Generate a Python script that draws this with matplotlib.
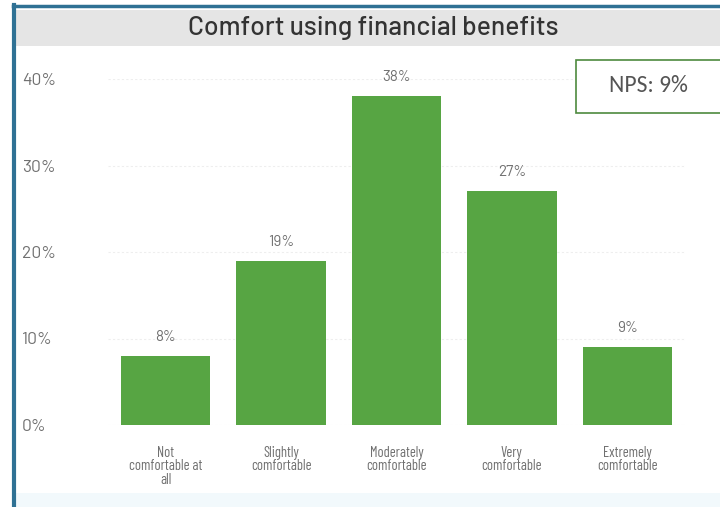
import matplotlib
matplotlib.use("Agg")
import matplotlib.pyplot as plt
from matplotlib.patches import Rectangle

categories = ["Not\ncomfortable at\nall", "Slightly\ncomfortable", "Moderately\ncomfortable",
              "Very\ncomfortable", "Extremely\ncomfortable"]
values = [8, 19, 38, 27, 9]
yticks = [0, 10, 20, 30, 40]
ytick_labels = ["0%", "10%", "20%", "30%", "40%"]
title = "Comfort using financial benefits"
nps_label = "NPS: 9%"

din = ["Barlow", "DejaVu Sans"]
din_cond = ["Barlow Condensed", "DejaVu Sans"]
calibri = ["Carlito", "DejaVu Sans"]
bar_color = "#57a543"
text_gray = "#707070"

W, H = 720, 507
fig = plt.figure(figsize=(W / 100, H / 100), dpi=100)
fig.patch.set_facecolor("white")


def fx(px):
    return px / W


def fy(py):
    return 1 - py / H


# panel frame: blue edge on the left and top, grey title band
fig.add_artist(Rectangle((fx(16), fy(46)), fx(W - 16), fy(10) - fy(46), transform=fig.transFigure,
                         facecolor="#e5e5e5", edgecolor="none", zorder=1))
fig.add_artist(Rectangle((fx(16), fy(H)), fx(W - 16), fy(493) - fy(H), transform=fig.transFigure,
                         facecolor="#f2f9fc", edgecolor="none", zorder=1))
fig.add_artist(plt.Line2D([fx(14), fx(14)], [fy(5), fy(H)], transform=fig.transFigure,
                          color="#2f7194", lw=3, zorder=2))
fig.add_artist(plt.Line2D([fx(13), fx(W)], [fy(6), fy(6)], transform=fig.transFigure,
                          color="#2f7194", lw=2.5, zorder=2))

fig.text(fx(373), fy(28), title, ha="center", va="center", fontsize=19, fontweight="medium",
         family=din, color="#333333", zorder=3)

ax = fig.add_axes([fx(108), fy(425), fx(685) - fx(108), fy(79) - fy(425)])
ax.set_facecolor("none")
x = range(len(categories))
ax.bar(x, values, width=0.775, color=bar_color, zorder=2)
for xi, v in zip(x, values):
    ax.text(xi, v + 1.4, f"{v}%", ha="center", va="bottom", fontsize=11,
            family=din, color=text_gray)

ax.set_xlim(-0.5, len(categories) - 0.5)
ax.set_ylim(0, 40)
ax.set_yticks(yticks)
ax.set_yticklabels(ytick_labels, family=din, fontsize=12.5, color=text_gray)
ax.set_xticks(list(x))
ax.set_xticklabels(categories, family=din_cond, fontsize=10.5, color=text_gray, linespacing=0.95)
ax.tick_params(axis="both", length=0)
ax.tick_params(axis="y", pad=62)
ax.tick_params(axis="x", pad=15)
for lbl in ax.get_yticklabels():
    lbl.set_horizontalalignment("left")
for s in ax.spines.values():
    s.set_visible(False)
ax.grid(axis="y", color="#eeeeee", lw=0.8, ls=(0, (2, 2)), zorder=0)
ax.set_axisbelow(True)

# NPS callout box
fig.add_artist(Rectangle((fx(576), fy(113)), fx(150), fy(60) - fy(113), transform=fig.transFigure,
                         facecolor="white", edgecolor="#4e8a3e", lw=1.2, zorder=4))
fig.text(fx(648), fy(86), nps_label, ha="center", va="center", fontsize=17,
         family=calibri, color="#555555", zorder=5)

fig.savefig("out.png", dpi=100, facecolor=fig.get_facecolor())
